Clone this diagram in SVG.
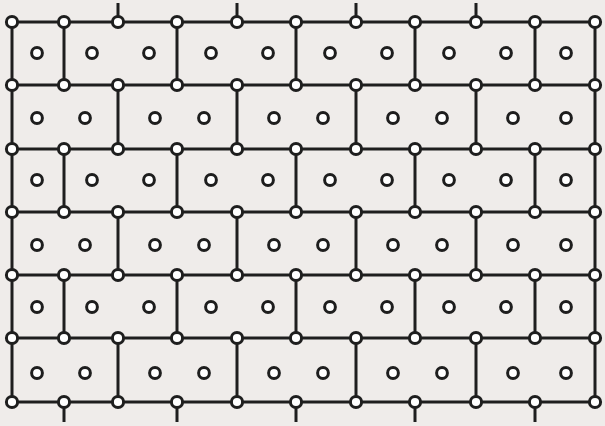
<svg xmlns="http://www.w3.org/2000/svg" width="605" height="426" viewBox="0 0 605 426">
<style>
.e{stroke:#1e1e1e;stroke-width:3;fill:none;stroke-linecap:butt}
.n{fill:#ffffff;stroke:#1e1e1e;stroke-width:3}
</style>
<defs>
<circle id="nd" r="5.6" class="n"/>
<circle id="cd" r="5.4" class="n"/>
</defs>
<rect width="605" height="426" fill="#efecea"/>
<g id="connectors" class="e">
<path d="M12 22H595M12 85H595M12 149H595M12 212H595M12 275H595M12 338H595M12 402H595"/>
<path d="M12 22V85M64 22V85M177 22V85M296 22V85M415 22V85M535 22V85M595 22V85"/>
<path d="M12 85V149M118 85V149M237 85V149M356 85V149M476 85V149M595 85V149"/>
<path d="M12 149V212M64 149V212M177 149V212M296 149V212M415 149V212M535 149V212M595 149V212"/>
<path d="M12 212V275M118 212V275M237 212V275M356 212V275M476 212V275M595 212V275"/>
<path d="M12 275V338M64 275V338M177 275V338M296 275V338M415 275V338M535 275V338M595 275V338"/>
<path d="M12 338V402M118 338V402M237 338V402M356 338V402M476 338V402M595 338V402"/>
<path d="M118 3V22M237 3V22M356 3V22M476 3V22"/>
<path d="M64 402V422M177 402V422M296 402V422M415 402V422M535 402V422"/>
</g>
<g id="nodes">
<g id="r0">
<use href="#nd" x="12" y="22"/><use href="#nd" x="64" y="22"/><use href="#nd" x="118" y="22"/><use href="#nd" x="177" y="22"/><use href="#nd" x="237" y="22"/><use href="#nd" x="296" y="22"/><use href="#nd" x="356" y="22"/><use href="#nd" x="415" y="22"/><use href="#nd" x="476" y="22"/><use href="#nd" x="535" y="22"/><use href="#nd" x="595" y="22"/>
</g>
<g id="r1">
<use href="#nd" x="12" y="85"/><use href="#nd" x="64" y="85"/><use href="#nd" x="118" y="85"/><use href="#nd" x="177" y="85"/><use href="#nd" x="237" y="85"/><use href="#nd" x="296" y="85"/><use href="#nd" x="356" y="85"/><use href="#nd" x="415" y="85"/><use href="#nd" x="476" y="85"/><use href="#nd" x="535" y="85"/><use href="#nd" x="595" y="85"/>
</g>
<g id="r2">
<use href="#nd" x="12" y="149"/><use href="#nd" x="64" y="149"/><use href="#nd" x="118" y="149"/><use href="#nd" x="177" y="149"/><use href="#nd" x="237" y="149"/><use href="#nd" x="296" y="149"/><use href="#nd" x="356" y="149"/><use href="#nd" x="415" y="149"/><use href="#nd" x="476" y="149"/><use href="#nd" x="535" y="149"/><use href="#nd" x="595" y="149"/>
</g>
<g id="r3">
<use href="#nd" x="12" y="212"/><use href="#nd" x="64" y="212"/><use href="#nd" x="118" y="212"/><use href="#nd" x="177" y="212"/><use href="#nd" x="237" y="212"/><use href="#nd" x="296" y="212"/><use href="#nd" x="356" y="212"/><use href="#nd" x="415" y="212"/><use href="#nd" x="476" y="212"/><use href="#nd" x="535" y="212"/><use href="#nd" x="595" y="212"/>
</g>
<g id="r4">
<use href="#nd" x="12" y="275"/><use href="#nd" x="64" y="275"/><use href="#nd" x="118" y="275"/><use href="#nd" x="177" y="275"/><use href="#nd" x="237" y="275"/><use href="#nd" x="296" y="275"/><use href="#nd" x="356" y="275"/><use href="#nd" x="415" y="275"/><use href="#nd" x="476" y="275"/><use href="#nd" x="535" y="275"/><use href="#nd" x="595" y="275"/>
</g>
<g id="r5">
<use href="#nd" x="12" y="338"/><use href="#nd" x="64" y="338"/><use href="#nd" x="118" y="338"/><use href="#nd" x="177" y="338"/><use href="#nd" x="237" y="338"/><use href="#nd" x="296" y="338"/><use href="#nd" x="356" y="338"/><use href="#nd" x="415" y="338"/><use href="#nd" x="476" y="338"/><use href="#nd" x="535" y="338"/><use href="#nd" x="595" y="338"/>
</g>
<g id="r6">
<use href="#nd" x="12" y="402"/><use href="#nd" x="64" y="402"/><use href="#nd" x="118" y="402"/><use href="#nd" x="177" y="402"/><use href="#nd" x="237" y="402"/><use href="#nd" x="296" y="402"/><use href="#nd" x="356" y="402"/><use href="#nd" x="415" y="402"/><use href="#nd" x="476" y="402"/><use href="#nd" x="535" y="402"/><use href="#nd" x="595" y="402"/>
</g>
</g>
<g id="cells">
<g id="c0">
<use href="#cd" x="37" y="53"/><use href="#cd" x="92" y="53"/><use href="#cd" x="149" y="53"/><use href="#cd" x="211" y="53"/><use href="#cd" x="268" y="53"/><use href="#cd" x="330" y="53"/><use href="#cd" x="387" y="53"/><use href="#cd" x="449" y="53"/><use href="#cd" x="506" y="53"/><use href="#cd" x="566" y="53"/>
</g>
<g id="c1">
<use href="#cd" x="37" y="118"/><use href="#cd" x="85" y="118"/><use href="#cd" x="155" y="118"/><use href="#cd" x="204" y="118"/><use href="#cd" x="274" y="118"/><use href="#cd" x="323" y="118"/><use href="#cd" x="393" y="118"/><use href="#cd" x="442" y="118"/><use href="#cd" x="513" y="118"/><use href="#cd" x="566" y="118"/>
</g>
<g id="c2">
<use href="#cd" x="37" y="180"/><use href="#cd" x="92" y="180"/><use href="#cd" x="149" y="180"/><use href="#cd" x="211" y="180"/><use href="#cd" x="268" y="180"/><use href="#cd" x="330" y="180"/><use href="#cd" x="387" y="180"/><use href="#cd" x="449" y="180"/><use href="#cd" x="506" y="180"/><use href="#cd" x="566" y="180"/>
</g>
<g id="c3">
<use href="#cd" x="37" y="245"/><use href="#cd" x="85" y="245"/><use href="#cd" x="155" y="245"/><use href="#cd" x="204" y="245"/><use href="#cd" x="274" y="245"/><use href="#cd" x="323" y="245"/><use href="#cd" x="393" y="245"/><use href="#cd" x="442" y="245"/><use href="#cd" x="513" y="245"/><use href="#cd" x="566" y="245"/>
</g>
<g id="c4">
<use href="#cd" x="37" y="307"/><use href="#cd" x="92" y="307"/><use href="#cd" x="149" y="307"/><use href="#cd" x="211" y="307"/><use href="#cd" x="268" y="307"/><use href="#cd" x="330" y="307"/><use href="#cd" x="387" y="307"/><use href="#cd" x="449" y="307"/><use href="#cd" x="506" y="307"/><use href="#cd" x="566" y="307"/>
</g>
<g id="c5">
<use href="#cd" x="37" y="373"/><use href="#cd" x="85" y="373"/><use href="#cd" x="155" y="373"/><use href="#cd" x="204" y="373"/><use href="#cd" x="274" y="373"/><use href="#cd" x="323" y="373"/><use href="#cd" x="393" y="373"/><use href="#cd" x="442" y="373"/><use href="#cd" x="513" y="373"/><use href="#cd" x="566" y="373"/>
</g>
</g>
</svg>
